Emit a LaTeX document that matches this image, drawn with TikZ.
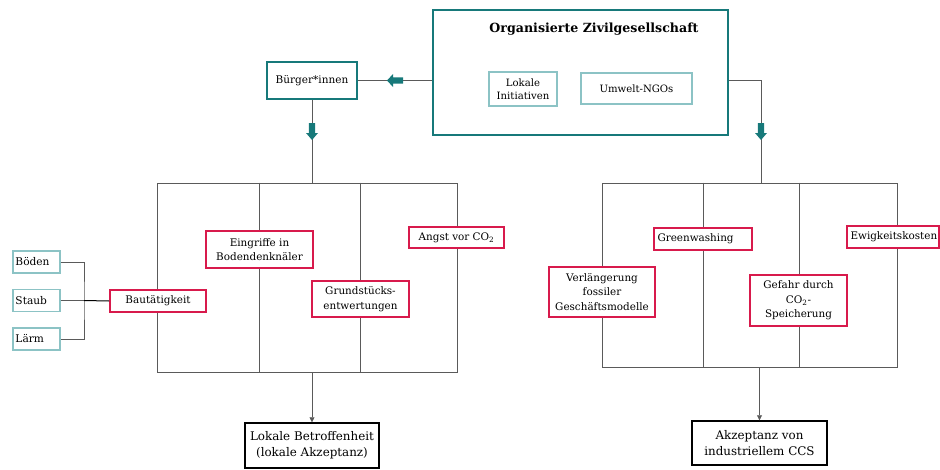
\documentclass[tikz,border=0pt]{standalone}
\usepackage{fontspec}
\setmainfont{DejaVu Serif}
\usetikzlibrary{arrows.meta,shadows}
\definecolor{tealdark}{HTML}{17797A}
\definecolor{teallight}{HTML}{8CC3C5}
\definecolor{redb}{HTML}{D81A4C}
\definecolor{linegray}{HTML}{5A5A5A}
\begin{document}
\begin{tikzpicture}[x=1pt,y=-1pt,
  txt/.style={font=\fontsize{10.4}{14.5}\selectfont},
  tealbox/.style={draw=tealdark, line width=1.6pt, fill=white, inner sep=0pt, align=center, font=\fontsize{10.5}{14.5}\selectfont},
  lightbox/.style={draw=teallight, line width=1.3pt, fill=white, inner sep=0pt, align=center, font=\fontsize{10.1}{13}\selectfont},
  leftbox/.style={draw=teallight, line width=1.3pt, fill=white, inner xsep=2.5pt, inner ysep=0pt, text width=42pt, align=left, minimum height=22pt, font=\fontsize{10.6}{13}\selectfont},
  redbox/.style={draw=redb, line width=1.8pt, fill=white, inner sep=0pt, align=center, txt,
    drop shadow={shadow xshift=1pt, shadow yshift=-1.2pt, opacity=0.25}},
  resultbox/.style={draw=black, line width=1.4pt, fill=white, inner sep=0pt, align=center, font=\fontsize{11.9}{16}\selectfont},
  gridbox/.style={draw=linegray, line width=0.7pt},
  conn/.style={draw=linegray, line width=0.7pt},
  tip/.style={-{Triangle[length=5pt,width=5pt]}},
  blkleft/.pic={\fill[tealdark] (0,0) -- (6,-6.5) -- (6,-3.2) -- (16,-3.2) -- (16,3.2) -- (6,3.2) -- (6,6.5) -- cycle;},
  blkdown/.pic={\fill[tealdark] (0,0) -- (-6,-7) -- (-3.2,-7) -- (-3.2,-17) -- (3.2,-17) -- (3.2,-7) -- (6,-7) -- cycle;}
]
\useasboundingbox (0,0) rectangle (940,469);

% top
\node[tealbox, minimum width=295pt, minimum height=125pt] (orga) at (580.5,72.5) {};
\node[font=\fontsize{12.6}{14}\selectfont\bfseries] (title) at (594,29) {Organisierte Zivilgesellschaft};
\node[lightbox, minimum width=68pt, minimum height=34pt] (ini) at (523,89) {Lokale\\Initiativen};
\node[lightbox, minimum width=111pt, minimum height=31pt] (ngo) at (636.5,88.5) {Umwelt-NGOs};
\node[tealbox, minimum width=90pt, minimum height=37pt] (bur) at (312,80.5) {Bürger*innen};

\coordinate (rtop) at (761,80.5);

% grids
\node[gridbox, minimum width=300pt, minimum height=189pt] (lg) at (307,277.5) {};
\node[gridbox, minimum width=295pt, minimum height=184pt] (rg) at (749.5,275) {};
\coordinate (lv1) at (259,0);
\coordinate (lv2) at (360,0);
\coordinate (rv1) at (703,0);
\coordinate (rv2) at (799,0);
\draw[conn] (lv1 |- lg.north) -- (lv1 |- lg.south);
\draw[conn] (lv2 |- lg.north) -- (lv2 |- lg.south);
\draw[conn] (rv1 |- rg.north) -- (rv1 |- rg.south);
\draw[conn] (rv2 |- rg.north) -- (rv2 |- rg.south);

% connectors top
\draw[conn] (orga.west |- bur.east) -- (bur.east);
\pic at (387,80.5) {blkleft};
\draw[conn] (bur.south) -- (bur.south |- lg.north);
\pic at (312,140) {blkdown};
\draw[conn] (orga.east |- rtop) -- (rtop) -- (rtop |- rg.north);
\pic at (761,140) {blkdown};

% left red boxes
\node[redbox, minimum width=96pt, minimum height=22pt] (bau) at (158,301) {Bautätigkeit};
\node[redbox, minimum width=107pt, minimum height=37pt] (ein) at (259.5,249.5) {Eingriffe in\\Bodendenknäler};
\node[redbox, minimum width=97pt, minimum height=36pt] (gru) at (360.5,299) {Grundstücks-\\entwertungen};
\node[redbox, minimum width=95pt, minimum height=21pt] (ang) at (456.5,237.5) {Angst vor CO\textsubscript{2}};

% right red boxes
\node[redbox, minimum width=106pt, minimum height=50pt] (ver) at (602,292) {Verlängerung\\fossiler\\Geschäftsmodelle};
\node[redbox, inner xsep=3.5pt, text width=91pt, align=left, minimum height=22pt] (gre) at (703,239) {Greenwashing};
\node[redbox, minimum width=97pt, minimum height=51pt] (gef) at (798.5,300.5) {Gefahr durch\\CO\textsubscript{2}-\\Speicherung};
\node[redbox, inner xsep=3.5pt, text width=85pt, align=left, minimum height=22pt] (ewi) at (893,237) {Ewigkeitskosten};

% left small boxes
\node[leftbox] (boe) at (36.5,262) {Böden};
\node[leftbox] (sta) at (36.5,300.5) {Staub};
\node[leftbox] (lae) at (36.5,339) {Lärm};
\coordinate (br) at (84,300.5);
\draw[conn] (boe.east) -| (br) |- (lae.east);
\draw[conn] (sta.east) -- (br);
\draw[black, line width=1pt] (br) -- (bau.west);

% results
\node[resultbox, minimum width=134pt, minimum height=45pt] (lok) at (312,445.5) {Lokale Betroffenheit\\(lokale Akzeptanz)};
\node[resultbox, minimum width=135pt, minimum height=44pt] (akz) at (759.5,443) {Akzeptanz von\\industriellem CCS};
\draw[conn, tip] (lg.south -| lok.north) -- (lok.north);
\draw[conn, tip] (rg.south -| akz.north) -- (akz.north);
\end{tikzpicture}
\end{document}
